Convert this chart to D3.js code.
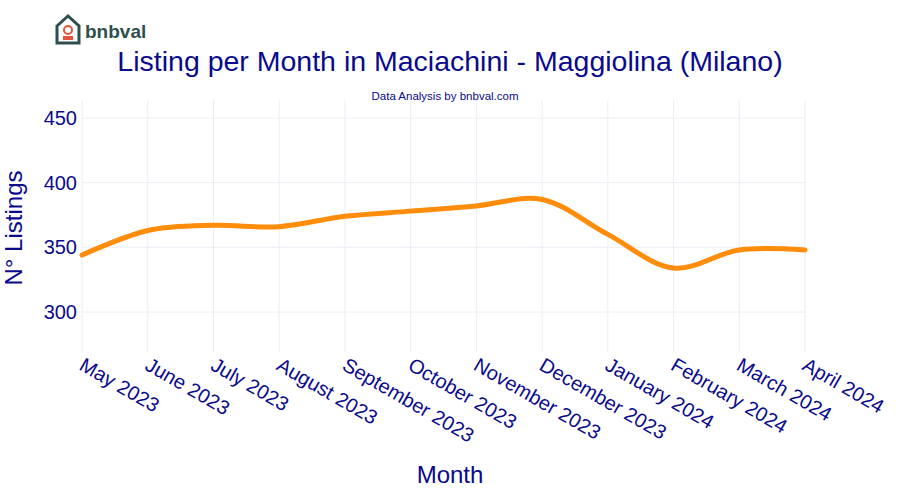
<!DOCTYPE html>
<html><head><meta charset="utf-8">
<script src="https://cdn.jsdelivr.net/npm/d3@7"></script>
<style>body{margin:0;background:#fff}</style></head>
<body><svg id="c" width="900" height="500"></svg>
<script>
const months = ["May 2023","June 2023","July 2023","August 2023","September 2023","October 2023","November 2023","December 2023","January 2024","February 2024","March 2024","April 2024"];
const listings = [344,363,367,366,374,378,382,387,360,334,348,348];
const yTicks = [300,350,400,450];

const svg = d3.select("#c");
const font = "Arial, 'Liberation Sans', sans-serif";
const navy = "#0a0a8c";
const x = d3.scalePoint().domain(months).range([82,805]);
const y = d3.scaleLinear().domain([300,450]).range([312,118]);

svg.append("g").selectAll("line").data(yTicks).join("line")
  .attr("x1",82).attr("x2",805).attr("y1",d=>y(d)).attr("y2",d=>y(d)).attr("stroke","#ebeef5");
svg.append("g").selectAll("line").data(months).join("line")
  .attr("x1",d=>x(d)).attr("x2",d=>x(d)).attr("y1",100).attr("y2",352).attr("stroke","#ebeef5");

svg.append("g").selectAll("text").data(yTicks).join("text")
  .attr("x",77).attr("y",d=>y(d)+7).attr("text-anchor","end")
  .attr("font-family",font).attr("font-size",20).attr("fill",navy).text(d=>d);

svg.append("g").selectAll("text").data(months).join("text")
  .attr("transform",d=>`translate(${x(d)-4},${369}) rotate(30)`)
  .attr("font-family",font).attr("font-size",20).attr("fill",navy).text(d=>d);

svg.append("path").datum(listings)
  .attr("d",d3.line().x((d,i)=>x(months[i])).y(d=>y(d)).curve(d3.curveCatmullRom.alpha(0.5)))
  .attr("fill","none").attr("stroke","#ff8c0a").attr("stroke-width",5).attr("stroke-linecap","round");

svg.append("text").attr("x",450).attr("y",71).attr("text-anchor","middle")
  .attr("font-family",font).attr("font-size",28.5).attr("fill",navy)
  .text("Listing per Month in Maciachini - Maggiolina (Milano)");
svg.append("text").attr("x",445).attr("y",100).attr("text-anchor","middle")
  .attr("font-family",font).attr("font-size",11.5).attr("fill",navy).text("Data Analysis by bnbval.com");
svg.append("text").attr("x",450).attr("y",483).attr("text-anchor","middle")
  .attr("font-family",font).attr("font-size",24).attr("fill",navy).text("Month");
svg.append("text").attr("transform","translate(22,228) rotate(-90)").attr("text-anchor","middle")
  .attr("font-family",font).attr("font-size",24).attr("fill",navy).text("N° Listings");

const lg = svg.append("g").attr("transform","translate(55,14)");
lg.append("path").attr("d","M2,12 L13,2 L24,12 L24,29 L2,29 Z").attr("fill","none").attr("stroke","#2f4f4f").attr("stroke-width",3);
lg.append("circle").attr("cx",13).attr("cy",16).attr("r",4).attr("fill","none").attr("stroke","#e5533d").attr("stroke-width",2);
lg.append("rect").attr("x",8).attr("y",22).attr("width",10).attr("height",4).attr("fill","#e5533d");
svg.append("text").attr("x",85).attr("y",38).attr("font-family",font).attr("font-weight","bold")
  .attr("font-size",19).attr("fill","#2f4f4f").text("bnbval");
</script></body></html>
